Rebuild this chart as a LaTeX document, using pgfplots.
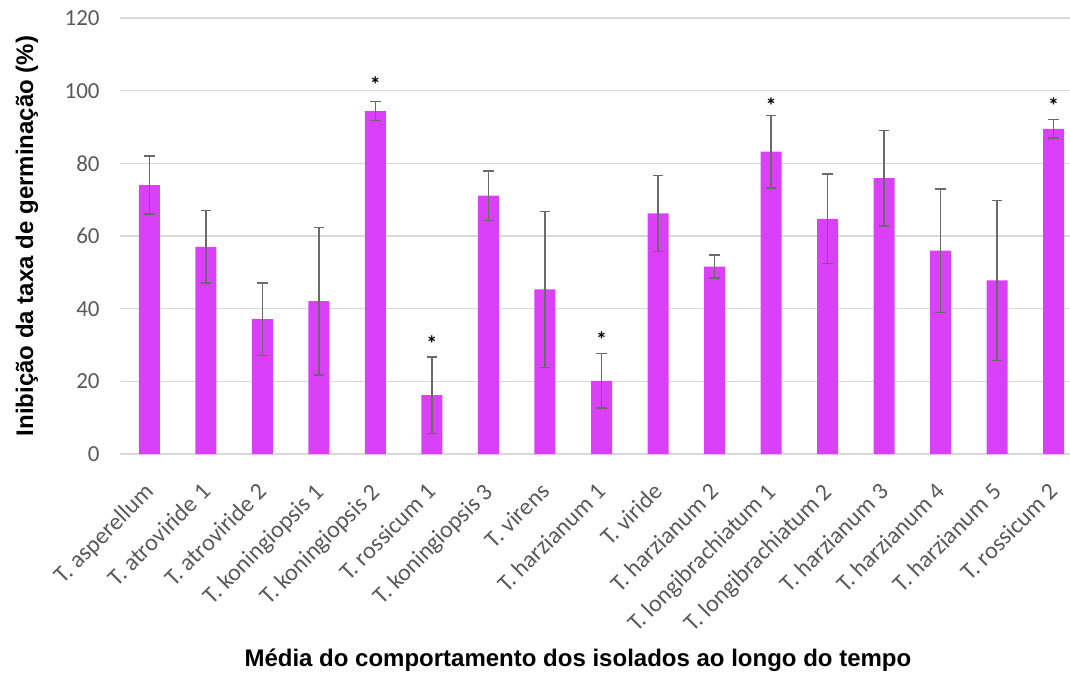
\documentclass[border=0pt]{standalone}
\usepackage{pgfplots}
\pgfplotsset{compat=1.18}
\usepackage{pgfplotstable}
\usepackage{fontspec}
\setmainfont{Carlito}
\newfontfamily\arialfont{Liberation Sans}
\definecolor{barc}{HTML}{DA40F8}
\definecolor{errc}{HTML}{6A6A6A}
\definecolor{gridc}{HTML}{D9D9D9}
\definecolor{tickc}{HTML}{595959}

\pgfplotstableread{
x y e
0 74.0 8.0
1 57.0 10.0
2 37.1 10.0
3 42.1 20.3
4 94.4 2.6
5 16.2 10.5
6 71.1 6.8
7 45.3 21.5
8 20.1 7.5
9 66.2 10.4
10 51.6 3.2
11 83.2 10.0
12 64.7 12.3
13 75.9 13.1
14 56.0 17.0
15 47.8 22.0
16 89.5 2.5
}\bars

\pgfplotstableread{
x y
4 99.6
5 28.3
8 29.4
11 93.8
16 93.8
}\stars

\begin{document}
\begin{tikzpicture}
\begin{axis}[
  name=ax,
  scale only axis,
  width=475pt, height=218pt,
  xmin=-0.52, xmax=16.29,
  ymin=0, ymax=120,
  ytick={0,20,...,120},
  xtick={0,...,16},
  xticklabels={T. asperellum, T. atroviride 1, T. atroviride 2, T. koningiopsis 1, T. koningiopsis 2, T. rossicum 1, T. koningiopsis 3, T. virens, T. harzianum 1, T. viride, T. harzianum 2, T. longibrachiatum 1, T. longibrachiatum 2, T. harzianum 3, T. harzianum 4, T. harzianum 5, T. rossicum 2},
  axis line style={draw=none},
  major tick length=0pt,
  ymajorgrids,
  grid style={gridc, line width=0.75pt},
  /pgf/number format/assume math mode=true,
  yticklabel style={font=\fontsize{11.5}{13}\selectfont, text=tickc, anchor=east, inner sep=0pt, xshift=-10pt},
  xticklabel style={font=\fontsize{12}{14}\selectfont, text=tickc, inner sep=0pt, xshift=-3pt, yshift=-13.5pt, rotate=45, anchor=north east},
  xlabel={\arialfont\bfseries Média do comportamento dos isolados ao longo do tempo},
  xlabel style={font=\fontsize{12}{14}\selectfont, at={(axis description cs:0.482,-0.472)}, anchor=center},
  ylabel={\arialfont\bfseries Inibição da taxa de germinação (\%)},
  ylabel style={font=\fontsize{12}{14}\selectfont, at={(axis description cs:-0.098,0.5)}, anchor=center, rotate=0},
  clip=false,
]
\addplot[ybar, bar width=10.5pt, fill=barc, draw=none,
  error bars/.cd, y dir=both, y explicit,
  error bar style={errc, line width=0.75pt},
  error mark options={rotate=90, mark size=2.6pt, line width=0.75pt, errc}]
  table[x=x, y=y, y error=e] {\bars};
\addplot[draw=none, mark=none, nodes near coords={*},
  every node near coord/.style={anchor=base, inner sep=0pt, font=\fontsize{11}{13}\selectfont\bfseries, text=black}]
  table[x=x, y=y] {\stars};
\end{axis}
\pgfresetboundingbox
\path ([xshift=-60pt,yshift=-110.5pt]ax.south west) rectangle ([yshift=9pt]ax.north east);
\end{tikzpicture}
\end{document}
